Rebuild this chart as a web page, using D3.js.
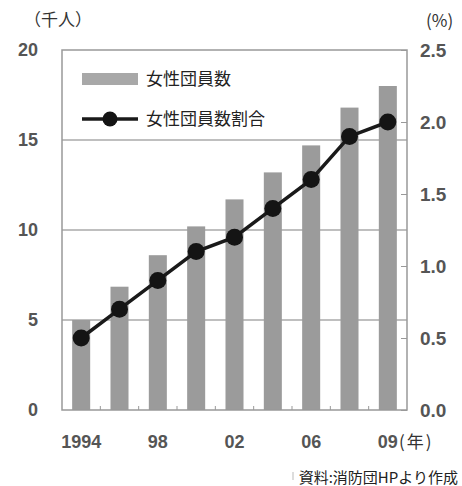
<!DOCTYPE html>
<html>
<head>
<meta charset="utf-8">
<script src="https://cdn.jsdelivr.net/npm/d3@7"></script>
<style>
  html, body { margin: 0; padding: 0; background: #fff; }
  svg { display: block; }
</style>
</head>
<body>
<svg id="chart" width="462" height="486"></svg>
<script>
const categories = ["1994", "1996", "1998", "2000", "2002", "2004", "2006", "2008", "2009"];
const memberValues = [5.0, 6.85, 8.6, 10.2, 11.7, 13.2, 14.7, 16.8, 18.0];   // 千人
const ratioValues = [0.5, 0.7, 0.9, 1.1, 1.2, 1.4, 1.6, 1.9, 2.0];          // %
const leftTicks = [0, 5, 10, 15, 20];
const rightTicks = [0, 0.5, 1.0, 1.5, 2.0, 2.5];
const xLabelCats = ["1994", "1998", "2002", "2006", "2009"];
const xLabelText = ["1994", "98", "02", "06", "09"];
const seriesNames = ["女性団員数", "女性団員数割合"];

const W = 462, H = 486;
const margin = { top: 50, right: 55, bottom: 76, left: 62 };
const svg = d3.select("#chart");

const x = d3.scaleBand().domain(categories).range([margin.left, W - margin.right]).padding(0);
const y = d3.scaleLinear().domain([0, 20]).range([H - margin.bottom, margin.top]);
const y2 = d3.scaleLinear().domain([0, 2.5]).range([H - margin.bottom, margin.top]);

const numFont = "'Liberation Sans', Arial, sans-serif";
const jpFont = "'Noto Sans CJK JP', 'Noto Sans CJK SC', sans-serif";
const numColor = "#555";

// gridlines
svg.append("g").selectAll("line").data(leftTicks.filter(d => d > 0 && d < 20)).join("line")
  .attr("x1", margin.left).attr("x2", W - margin.right)
  .attr("y1", d => y(d)).attr("y2", d => y(d))
  .attr("stroke", "#aaa").attr("stroke-width", 1.5);

// bars
const bw = x.bandwidth() * 0.47;
svg.append("g").selectAll("rect").data(categories).join("rect")
  .attr("x", (d) => x(d) + x.bandwidth() / 2 - bw / 2)
  .attr("width", bw)
  .attr("y", (d, i) => y(memberValues[i]))
  .attr("height", (d, i) => y(0) - y(memberValues[i]))
  .attr("fill", "#9b9b9b");

// frame
svg.append("rect")
  .attr("x", margin.left).attr("y", margin.top)
  .attr("width", W - margin.left - margin.right)
  .attr("height", H - margin.top - margin.bottom)
  .attr("fill", "none").attr("stroke", "#999").attr("stroke-width", 1.5);

// bottom axis: small inner ticks at band boundaries
svg.append("g").selectAll("line").data(categories.slice(1)).join("line")
  .attr("x1", d => x(d)).attr("x2", d => x(d))
  .attr("y1", y(0)).attr("y2", y(0) - 4)
  .attr("stroke", "#999").attr("stroke-width", 1);

// left axis
const la = svg.append("g").attr("transform", `translate(${margin.left},0)`)
  .call(d3.axisLeft(y).tickValues(leftTicks).tickSize(0).tickPadding(24).tickFormat(d3.format("d")));
la.select(".domain").remove();
la.selectAll("text").attr("font-family", numFont).attr("font-size", 18).attr("font-weight", "bold").attr("fill", numColor);

// right axis
const ra = svg.append("g").attr("transform", `translate(${W - margin.right},0)`)
  .call(d3.axisRight(y2).tickValues(rightTicks).tickSize(-6).tickPadding(13).tickFormat(d3.format(".1f")));
ra.select(".domain").remove();
ra.selectAll("line").attr("stroke", "#999").attr("stroke-width", 1);
ra.selectAll("text").attr("font-family", numFont).attr("font-size", 19).attr("font-weight", "bold").attr("fill", numColor);

// x labels
svg.append("g").selectAll("text").data(xLabelCats).join("text")
  .attr("x", d => x(d) + x.bandwidth() / 2)
  .attr("y", 448)
  .attr("text-anchor", "middle")
  .attr("font-family", numFont).attr("font-size", 18).attr("font-weight", "bold").attr("fill", numColor)
  .text((d, i) => xLabelText[i]);

// line series
const line = d3.line().x((d, i) => x(categories[i]) + x.bandwidth() / 2).y(d => y2(d));
svg.append("path").datum(ratioValues).attr("d", line)
  .attr("fill", "none").attr("stroke", "#1a1a1a").attr("stroke-width", 3.5);
svg.append("g").selectAll("circle").data(ratioValues).join("circle")
  .attr("cx", (d, i) => x(categories[i]) + x.bandwidth() / 2)
  .attr("cy", d => y2(d))
  .attr("r", 8.5).attr("fill", "#141414");

// legend
const lg = svg.append("g");
lg.append("rect").attr("x", 82).attr("y", 73).attr("width", 56).attr("height", 12).attr("fill", "#a8a8a8");
lg.append("text").attr("x", 146).attr("y", 85).attr("font-family", jpFont).attr("font-size", 17).attr("fill", "#222").text(seriesNames[0]);
lg.append("line").attr("x1", 82).attr("x2", 138).attr("y1", 119).attr("y2", 119).attr("stroke", "#1a1a1a").attr("stroke-width", 3.5);
lg.append("circle").attr("cx", 110).attr("cy", 119).attr("r", 7.5).attr("fill", "#141414");
lg.append("text").attr("x", 146).attr("y", 125).attr("font-family", jpFont).attr("font-size", 17).attr("fill", "#222").text(seriesNames[1]);

// unit labels
svg.append("text").attr("x", 24).attr("y", 26).attr("font-family", jpFont).attr("font-size", 17).attr("fill", "#333").text("（千人）");
svg.append("text").attr("x", 426).attr("y", 27).attr("font-family", jpFont).attr("font-size", 17).attr("fill", "#333").text("(%)");
svg.append("text").attr("x", 399).attr("y", 448).attr("font-family", jpFont).attr("font-size", 17).attr("letter-spacing", 2).attr("fill", "#333").text("(年)");

// source
svg.append("line").attr("x1", 293).attr("x2", 293).attr("y1", 472).attr("y2", 480).attr("stroke", "#bbb").attr("stroke-width", 1);
svg.append("text").attr("x", 458).attr("y", 483).attr("text-anchor", "end").attr("font-family", jpFont).attr("font-size", 15).attr("fill", "#222").text("資料:消防団HPより作成");
</script>
</body>
</html>
